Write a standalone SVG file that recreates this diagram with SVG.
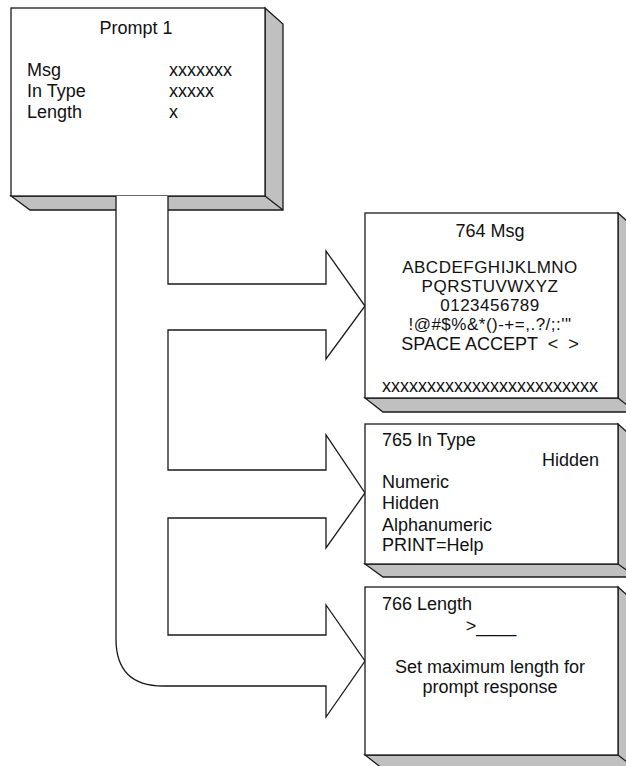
<svg xmlns="http://www.w3.org/2000/svg" width="626" height="766" viewBox="0 0 626 766">
<style>
.face{fill:#fff;stroke:#1a1a1a;stroke-width:1.3}
.shade{fill:#c0c0c0;stroke:#1a1a1a;stroke-width:1.3;stroke-linejoin:miter}
.edge{fill:none;stroke:#1a1a1a;stroke-width:1.3}
.band{fill:#fff;stroke:#1a1a1a;stroke-width:1.3;stroke-linejoin:miter}
text{font-family:"Liberation Sans",Arial,Helvetica,sans-serif;font-size:18px;fill:#111}
.c{text-anchor:middle}
.r{text-anchor:end}
.k{font-size:17px;letter-spacing:0.5px}
</style>
<rect width="626" height="766" fill="#fff"/>
<g id="prompt1">
<path class="shade" d="M265,8 L283,24 L283,210 L30,210 L11,196 L265,196 Z"/>
<line class="edge" x1="265" y1="196" x2="283" y2="210"/>
<rect class="face" x="11" y="8" width="254" height="188"/>
<text class="c" x="136" y="34">Prompt 1</text>
<text x="27" y="76">Msg</text>
<text x="169" y="76">xxxxxxx</text>
<text x="27" y="97">In Type</text>
<text x="169" y="97">xxxxx</text>
<text x="27" y="118">Length</text>
<text x="169" y="118">x</text>
</g>
<g id="connectors">
<path class="band" d="M168,196 L168,284 L326,284 L326,251 L365,306 L326,359 L326,330 L168,330 L168,470 L326,470 L326,435 L365,493 L326,548 L326,518 L168,518 L168,635 L326,635 L326,605 L365,661 L326,717 L326,686 L163,686 Q116,686 116,639 L116,196"/>
</g>
<g id="msg764">
<path class="shade" d="M618,213 L636,229 L636,412 L383,412 L365,398 L618,398 Z"/>
<line class="edge" x1="618" y1="398" x2="636" y2="412"/>
<rect class="face" x="365" y="213" width="253" height="185"/>
<text class="c" x="490" y="237">764 Msg</text>
<text class="c k" x="490" y="273">ABCDEFGHIJKLMNO</text>
<text class="c k" x="490" y="292">PQRSTUVWXYZ</text>
<text class="c k" x="490" y="311">0123456789</text>
<text class="c k" x="490" y="330">!@#$%&amp;*()-+=,.?/;:'"</text>
<text class="c" x="490" y="350" xml:space="preserve">SPACE ACCEPT  &lt;  &gt;</text>
<text class="c" x="490" y="392">xxxxxxxxxxxxxxxxxxxxxxxx</text>
</g>
<g id="intype765">
<path class="shade" d="M618,424 L636,440 L636,577 L383,577 L365,564 L618,564 Z"/>
<line class="edge" x1="618" y1="564" x2="636" y2="577"/>
<rect class="face" x="365" y="424" width="253" height="140"/>
<text x="382" y="446">765 In Type</text>
<text class="r" x="599" y="466">Hidden</text>
<text x="382" y="488">Numeric</text>
<text x="382" y="509">Hidden</text>
<text x="382" y="531">Alphanumeric</text>
<text x="382" y="551">PRINT=Help</text>
</g>
<g id="length766">
<path class="shade" d="M618,587 L636,603 L636,769 L383,769 L365,755 L618,755 Z"/>
<line class="edge" x1="618" y1="755" x2="636" y2="769"/>
<rect class="face" x="365" y="587" width="253" height="168"/>
<text x="382" y="610">766 Length</text>
<text class="c" x="491" y="632">&gt;____</text>
<text class="c" x="490" y="673">Set maximum length for</text>
<text class="c" x="490" y="693">prompt response</text>
</g>
</svg>
